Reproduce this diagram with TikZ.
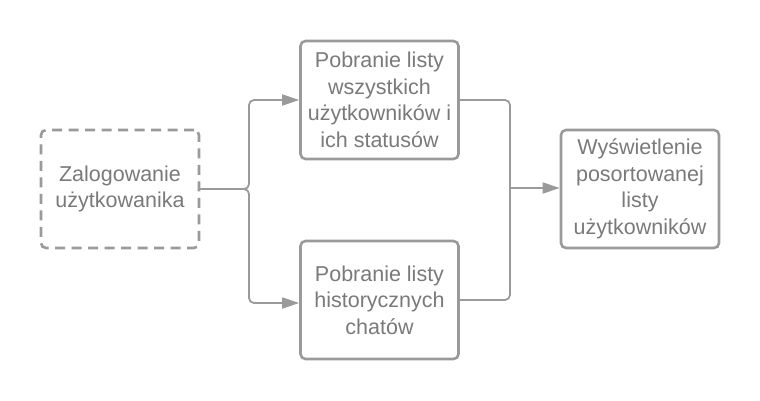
\documentclass[tikz,border=0pt]{standalone}
\usepackage{fontspec}
\setmainfont{Liberation Sans}
\usetikzlibrary{arrows.meta}
\definecolor{linec}{HTML}{9A9A9A}
\definecolor{textc}{HTML}{7A7A7A}
\begin{document}
\begin{tikzpicture}[x=1pt,y=-1pt,
  box/.style={draw=linec, line width=2.6pt, rounded corners=5pt, fill=white,
    minimum width=158pt, minimum height=118pt, inner sep=0pt, align=center,
    text=textc, font=\fontsize{21.5}{26.5}\selectfont},
  dbox/.style={box, dash pattern=on 10pt off 6.5pt},
  conn/.style={draw=linec, line width=1.8pt, rounded corners=5pt,
    -{Triangle[length=17pt,width=11pt]}},
  plain/.style={draw=linec, line width=1.8pt, rounded corners=5pt}]
\useasboundingbox (0,0) rectangle (760,400);
\node[dbox] (login) at (120,189) {Zalogowanie\\użytkowanika};
\node[box] (pobA) at (379.5,100) {Pobranie listy\\wszystkich\\użytkowników i\\ich statusów};
\node[box] (pobB) at (379.5,300) {Pobranie listy\\historycznych\\chatów};
\node[box] (wys) at (640,189) {Wyświetlenie\\posortowanej\\listy\\użytkowników};
\coordinate (j1) at (249,189);
\coordinate (j2) at (510,188);
\draw[conn] (login.east) -- (j1) |- (pobA.west);
\draw[conn] (login.east) -- (j1) |- ([yshift=-3pt]pobB.west);
\draw[plain] (pobA.east) -| (j2);
\draw[plain] (pobB.east) -| (j2);
\draw[conn] (j2) -- (wys.west |- j2);
\end{tikzpicture}
\end{document}
